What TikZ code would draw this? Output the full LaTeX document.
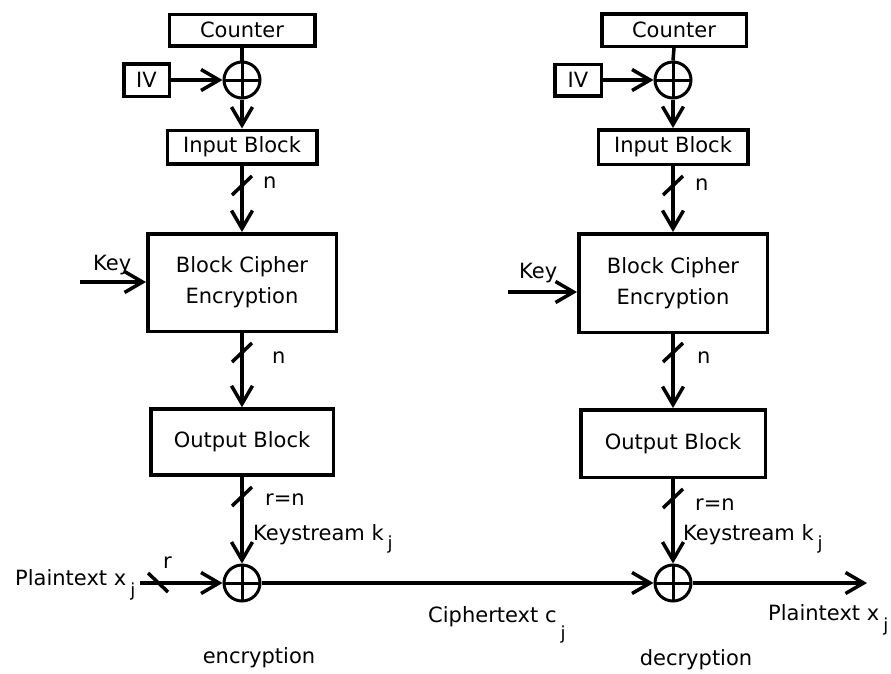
\documentclass[tikz,border=0pt]{standalone}
\usepackage{fontspec}
\setmainfont{DejaVu Sans}
\usetikzlibrary{arrows.meta}
\newcommand{\subj}[1]{\hspace{4pt}\raisebox{#1}{\fontsize{18}{18}\selectfont j}}
\begin{document}
\begin{tikzpicture}[x=1pt,y=-1pt,
  every node/.style={font=\fontsize{21}{31}\selectfont},
  box/.style={draw, line width=3.5pt, inner sep=0pt, align=center},
  xor/.style={draw, circle, line width=3pt, minimum size=36pt, inner sep=0pt,
    path picture={\draw[line width=3pt] (path picture bounding box.north) -- (path picture bounding box.south)
      (path picture bounding box.west) -- (path picture bounding box.east);}},
  wire/.style={line width=3.5pt},
  arr/.style={wire, -{Straight Barb[length=18pt,width=21pt]}},
  tick/.style={line width=3.5pt},
  lbl/.style={anchor=base west, inner sep=0pt}
]
\useasboundingbox (0,0) rectangle (891,673);

% ---------- left column (encryption) ----------
\node[box, minimum width=145.5pt, minimum height=31.5pt] (cnt1) at (242,30) {Counter};
\node[box, minimum width=45.5pt, minimum height=32.5pt] (iv1) at (146.5,80) {IV};
\node[xor] (x1) at (242,80) {};
\node[box, minimum width=149.5pt, minimum height=33.5pt] (in1) at (242,147) {Input Block};
\node[box, minimum width=188.5pt, minimum height=97.5pt] (bc1) at (242,282.5) {Block Cipher\\Encryption};
\node[box, minimum width=182.5pt, minimum height=66pt] (out1) at (242,442) {Output Block};
\node[xor] (xe) at (242,583) {};

\draw[wire] (cnt1.south) -- (x1.north);
\draw[arr] (iv1.east) -- (x1.west);
\draw[arr] (x1.south) -- (in1.north);
\draw[arr] (in1.south) -- (bc1.north);
\draw[arr] (bc1.south) -- (out1.north);
\draw[arr] (out1.south) -- (xe.north);
\coordinate (k1) at (80,282);
\draw[arr] (k1) -- (k1 -| bc1.west);
\coordinate (p1) at (140,583);
\draw[arr] (p1) -- (xe.west);

\draw[tick] (232,195) -- (252,176);
\draw[tick] (232,362) -- (252,343);
\draw[tick] (232,506) -- (252,487);
\draw[tick] (148,573) -- (168,592);

\node[lbl] (n1a) at (263,188) {n};
\node[lbl] (n1b) at (272,363) {n};
\node[lbl] (rn1) at (265,505) {r=n};
\node[lbl] (ks1) at (253,540) {Keystream k\subj{-9pt}};
\node[lbl] (key1) at (93,270) {Key};
\node[lbl] (r1) at (163,568) {r};
\node[lbl] (pt1) at (15,585) {Plaintext x\subj{-11pt}};
\node[anchor=base, inner sep=0pt] (enc) at (259,663) {encryption};

% ---------- right column (decryption) ----------
\node[box, minimum width=144.5pt, minimum height=32.5pt] (cnt2) at (674,30) {Counter};
\node[box, minimum width=46.5pt, minimum height=31.5pt] (iv2) at (578,80) {IV};
\node[xor] (x2) at (673,80) {};
\node[box, minimum width=149.5pt, minimum height=34.5pt] (in2) at (673,147) {Input Block};
\node[box, minimum width=188.5pt, minimum height=98.5pt] (bc2) at (673,283) {Block Cipher\\Encryption};
\node[box, minimum width=184.5pt, minimum height=67.5pt] (out2) at (673,443.5) {Output Block};
\node[xor] (xd) at (673,583) {};

\draw[wire] (cnt2.south) -- (x2.north);
\draw[arr] (iv2.east) -- (x2.west);
\draw[arr] (x2.south) -- (in2.north);
\draw[arr] (in2.south) -- (bc2.north);
\draw[arr] (bc2.south) -- (out2.north);
\draw[arr] (out2.south) -- (xd.north);
\coordinate (k2) at (508,292);
\draw[arr] (k2) -- (k2 -| bc2.west);
\draw[arr] (xe.east) -- (xd.west);
\coordinate (pout) at (867,583);
\draw[arr] (xd.east) -- (pout);

\draw[tick] (663,195) -- (683,176);
\draw[tick] (663,362) -- (683,343);
\draw[tick] (663,508) -- (683,489);

\node[lbl] (n2a) at (695,190) {n};
\node[lbl] (n2b) at (697,363) {n};
\node[lbl] (rn2) at (695,510) {r=n};
\node[lbl] (ks2) at (683,540) {Keystream k\subj{-9pt}};
\node[lbl] (key2) at (519,278) {Key};
\node[lbl] (ct) at (428,622) {Ciphertext c\subj{-17pt}};
\node[lbl] (pt2) at (768,620) {Plaintext x\subj{-11pt}};
\node[anchor=base, inner sep=0pt] (dec) at (696,665) {decryption};
\end{tikzpicture}
\end{document}
